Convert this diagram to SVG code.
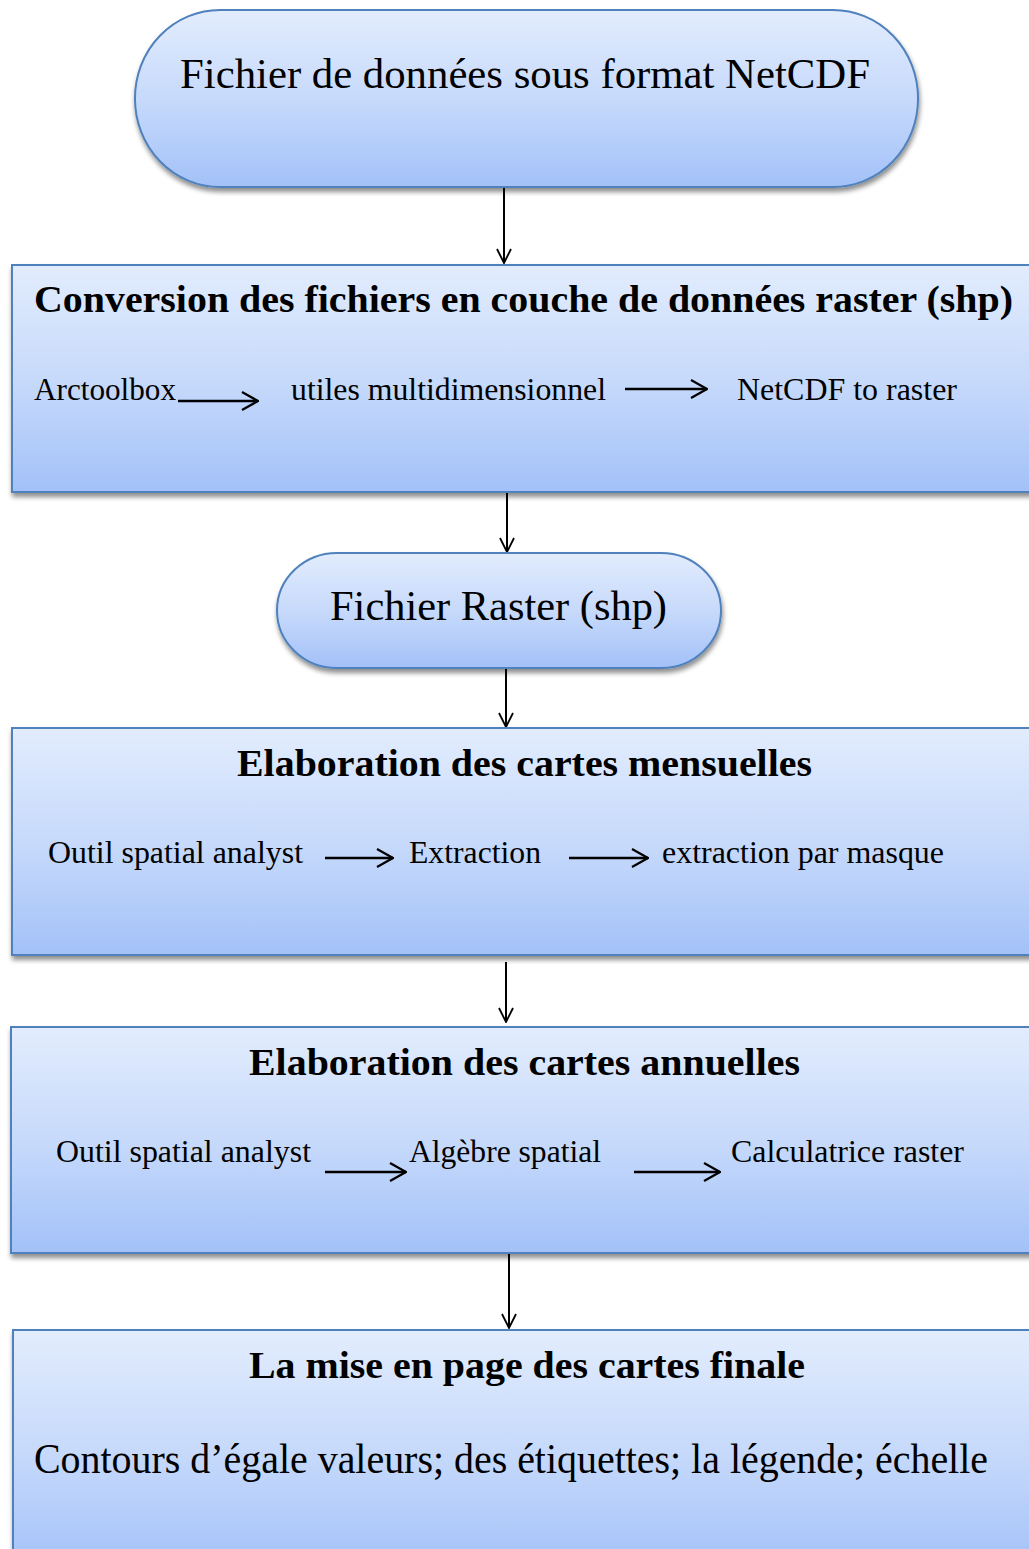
<svg xmlns="http://www.w3.org/2000/svg" width="1029" height="1549" viewBox="0 0 1029 1549">
  <defs>
    <linearGradient id="boxFill" x1="0" y1="0" x2="0" y2="1">
      <stop offset="0" stop-color="#e2ecfd"/>
      <stop offset="0.5" stop-color="#c7dafb"/>
      <stop offset="1" stop-color="#a3c1f8"/>
    </linearGradient>
    <filter id="shadow" x="-5%" y="-10%" width="115%" height="125%">
      <feGaussianBlur in="SourceAlpha" stdDeviation="2.5"/>
      <feOffset dx="1" dy="4" result="blur"/>
      <feComponentTransfer><feFuncA type="linear" slope="0.45"/></feComponentTransfer>
      <feMerge><feMergeNode/><feMergeNode in="SourceGraphic"/></feMerge>
    </filter>
    <marker id="head" viewBox="0 0 16 16" refX="15" refY="8" markerWidth="16" markerHeight="16" orient="auto" markerUnits="userSpaceOnUse">
      <path d="M1,1 L15,8 L1,15" fill="none" stroke="#000" stroke-width="1.8"/>
    </marker>
    <marker id="headInline" viewBox="0 0 18 20" refX="17" refY="10" markerWidth="18" markerHeight="20" orient="auto" markerUnits="userSpaceOnUse">
      <path d="M1,1 L17,10 L1,19" fill="none" stroke="#000" stroke-width="2.2"/>
    </marker>
  </defs>
  <style>
    .box { fill: url(#boxFill); stroke: #4f81bd; stroke-width: 2; filter: url(#shadow); }
    text { font-family: 'Liberation Serif', 'Times New Roman', Times, serif; fill: #000; }
    .big { font-size: 42px; }
    .title { font-size: 38px; font-weight: bold; }
    .line { font-size: 31px; }
    .conn { stroke: #000; stroke-width: 2; fill: none; marker-end: url(#head); }
    .step { stroke: #000; stroke-width: 2.4; fill: none; marker-end: url(#headInline); }
  </style>

  <rect width="1029" height="1549" fill="#ffffff"/>

  <!-- connectors between nodes -->
  <g id="connectors">
    <line class="conn" x1="504" y1="187" x2="504" y2="263"/>
    <line class="conn" x1="507" y1="492" x2="507" y2="552"/>
    <line class="conn" x1="506" y1="668" x2="506" y2="727"/>
    <line class="conn" x1="506" y1="962" x2="506" y2="1022"/>
    <line class="conn" x1="509" y1="1253" x2="509" y2="1328"/>
  </g>

  <g id="node-netcdf">
    <rect class="box" x="135" y="10" width="783" height="177" rx="85" ry="88"/>
    <text class="big" font-family="Liberation Serif" x="180" y="88" textLength="690" lengthAdjust="spacingAndGlyphs">Fichier de données sous format NetCDF</text>
  </g>

  <g id="node-conversion">
    <rect class="box" x="12" y="265" width="1030" height="227"/>
    <text class="title" font-family="Liberation Serif" x="34" y="312" textLength="979" lengthAdjust="spacingAndGlyphs">Conversion des fichiers en couche de données raster (shp)</text>
    <text class="line" font-family="Liberation Serif" x="34" y="400" textLength="142" lengthAdjust="spacingAndGlyphs">Arctoolbox</text>
    <line class="step" x1="178" y1="401" x2="258" y2="401"/>
    <text class="line" font-family="Liberation Serif" x="291" y="400" textLength="315" lengthAdjust="spacingAndGlyphs">utiles multidimensionnel</text>
    <line class="step" x1="625" y1="389" x2="707" y2="389" stroke="#333" stroke-width="1.6"/>
    <text class="line" font-family="Liberation Serif" x="737" y="400" textLength="220" lengthAdjust="spacingAndGlyphs">NetCDF to raster</text>
  </g>

  <g id="node-raster">
    <rect class="box" x="277" y="553" width="444" height="115" rx="60" ry="57.5"/>
    <text class="big" font-family="Liberation Serif" x="330" y="620" textLength="337" lengthAdjust="spacingAndGlyphs">Fichier Raster (shp)</text>
  </g>

  <g id="node-mensuelles">
    <rect class="box" x="12" y="728" width="1030" height="227"/>
    <text class="title" font-family="Liberation Serif" x="237" y="776" textLength="575" lengthAdjust="spacingAndGlyphs">Elaboration des cartes mensuelles</text>
    <text class="line" font-family="Liberation Serif" x="48" y="863" textLength="255" lengthAdjust="spacingAndGlyphs">Outil spatial analyst</text>
    <line class="step" x1="325" y1="858" x2="393" y2="858"/>
    <text class="line" font-family="Liberation Serif" x="409" y="863" textLength="132" lengthAdjust="spacingAndGlyphs">Extraction</text>
    <line class="step" x1="569" y1="858" x2="648" y2="858"/>
    <text class="line" font-family="Liberation Serif" x="662" y="863" textLength="282" lengthAdjust="spacingAndGlyphs">extraction par masque</text>
  </g>

  <g id="node-annuelles">
    <rect class="box" x="11" y="1027" width="1031" height="226"/>
    <text class="title" font-family="Liberation Serif" x="249" y="1075" textLength="551" lengthAdjust="spacingAndGlyphs">Elaboration des cartes annuelles</text>
    <text class="line" font-family="Liberation Serif" x="56" y="1162" textLength="255" lengthAdjust="spacingAndGlyphs">Outil spatial analyst</text>
    <line class="step" x1="325" y1="1172" x2="406" y2="1172"/>
    <text class="line" font-family="Liberation Serif" x="409" y="1162" textLength="192" lengthAdjust="spacingAndGlyphs">Algèbre spatial</text>
    <line class="step" x1="634" y1="1172" x2="720" y2="1172"/>
    <text class="line" font-family="Liberation Serif" x="731" y="1162" textLength="233" lengthAdjust="spacingAndGlyphs">Calculatrice raster</text>
  </g>

  <g id="node-miseenpage">
    <rect class="box" x="13" y="1330" width="1030" height="240"/>
    <text class="title" font-family="Liberation Serif" x="249" y="1378" textLength="556" lengthAdjust="spacingAndGlyphs">La mise en page des cartes finale</text>
    <text class="big" font-family="Liberation Serif" x="34" y="1473" textLength="954" lengthAdjust="spacingAndGlyphs">Contours d’égale valeurs; des étiquettes; la légende; échelle</text>
  </g>
</svg>
